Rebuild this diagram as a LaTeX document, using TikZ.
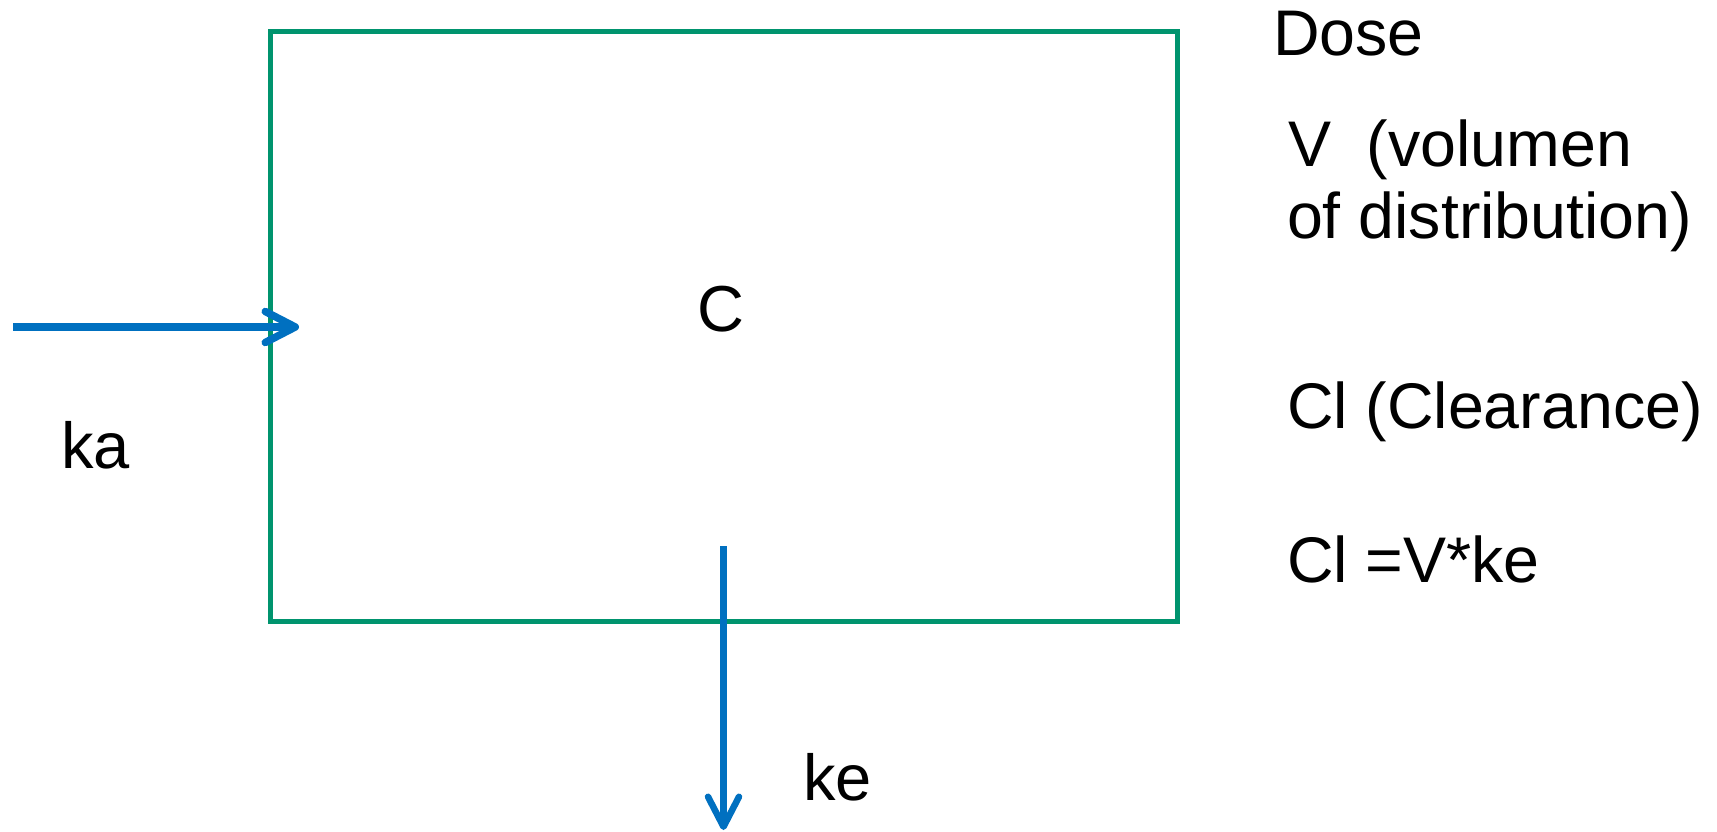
\documentclass[tikz,border=0pt]{standalone}
\usepackage{fontspec}
\setmainfont{Liberation Sans}
\usetikzlibrary{arrows.meta}
\definecolor{boxgreen}{RGB}{0,148,110}
\definecolor{arrowblue}{RGB}{0,112,192}
\tikzset{
  compartment/.style={draw=boxgreen, line width=5pt, minimum width=907.5pt, minimum height=589.5pt, inner sep=0pt, outer sep=0pt},
  flow/.style={draw=arrowblue, -{Straight Barb[length=30pt,width=31pt,round]}},
  lbl/.style={anchor=base west, inner sep=0pt, outer sep=0pt, font=\fontsize{64.5}{72}\selectfont},
  biglbl/.style={anchor=base west, inner sep=0pt, outer sep=0pt, font=\fontsize{65}{72}\selectfont}
}
\begin{document}
\begin{tikzpicture}[x=1pt,y=-1pt]
\useasboundingbox (0,0) rectangle (1717,832);
\node[compartment] (box) at (723.75,326.75) {};
\node[biglbl] (c) at (697,331) {C};
% absorption
\coordinate (kaS) at (13,327);
\coordinate (kaE) at (299,327);
\draw[flow, line width=7.5pt] (kaS) -- (kaE);
\node[biglbl] (ka) at (61,468) {ka};
% elimination
\coordinate (keS) at (723.5,546);
\coordinate (keE) at (723.5,830);
\draw[flow, line width=6.5pt] (keS) -- (keE);
\node[biglbl] (ke) at (803,800) {ke};
% right labels
\node[lbl] (dose) at (1273,56) {Dose};
\node[lbl] (v1) at (1288,167) {V\ \ (volumen};
\node[lbl] (v2) at (1287,238) {of distribution)};
\node[lbl] (cl) at (1287,428) {Cl (Clearance)};
\node[lbl] (cleq) at (1287,582) {Cl =V*ke};
\end{tikzpicture}
\end{document}
